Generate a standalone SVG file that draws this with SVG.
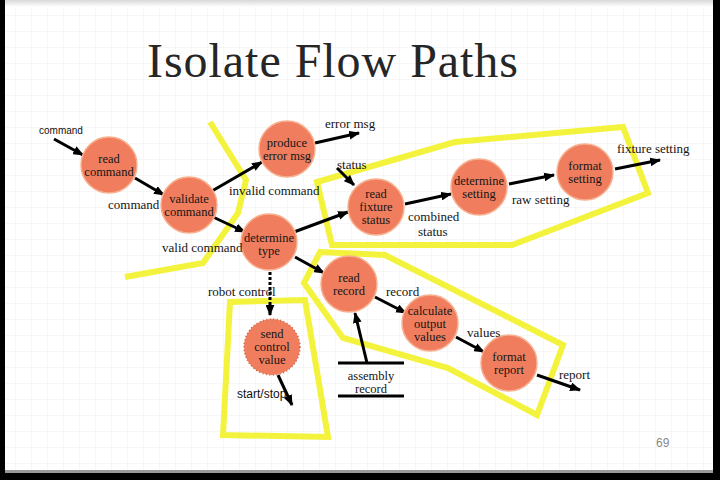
<svg xmlns="http://www.w3.org/2000/svg" width="720" height="480" viewBox="0 0 720 480">
  <defs>
    <pattern id="grid" width="16" height="16" patternUnits="userSpaceOnUse">
      <path d="M16 0 V16 M0 16 H16" fill="none" stroke="#efefef" stroke-width="1"/>
    </pattern>
    <marker id="ah" viewBox="0 0 10 8" refX="9" refY="4" markerWidth="11" markerHeight="9" markerUnits="userSpaceOnUse" orient="auto">
      <path d="M0 0 L10 4 L0 8 Z" fill="#000"/>
    </marker>
    <linearGradient id="topfade" x1="0" y1="0" x2="0" y2="1">
      <stop offset="0" stop-color="#d8d8d8"/>
      <stop offset="1" stop-color="#ffffff"/>
    </linearGradient>
    <style>
      .node circle { fill: #F07E5E; stroke: #F7B08F; stroke-width: 1.5; }
      .node text { text-anchor: middle; }
      .edge { stroke: #000; stroke-width: 3; fill: none; marker-end: url(#ah); }
      .hl { fill: none; stroke: #F3F33E; stroke-width: 6; stroke-linejoin: miter; }
    </style>
  </defs>

  <!-- frame -->
  <rect x="0" y="0" width="720" height="480" fill="#000"/>
  <rect x="5" y="0" width="708" height="473" fill="#9a9a9a"/>
  <rect x="5" y="0" width="708" height="470" fill="#fff"/>
  <rect x="5" y="0" width="708" height="470" fill="url(#grid)"/>
  <rect x="5" y="0" width="708" height="7" fill="url(#topfade)"/>

  <text x="147" y="77" font-family="'Liberation Serif', 'DejaVu Serif', serif" font-size="48" fill="#262626" textLength="371">Isolate Flow Paths</text>

  <!-- highlights -->
  <g id="highlights">
    <polyline class="hl" points="210,122 246,180 238,213 203,263 125,277"/>
    <polygon class="hl" points="317,182 455,142 623,127 648,193 512,245 332,245"/>
    <polygon class="hl" points="320,252 385,255 563,345 537,415 448,368 343,338 304,283"/>
    <polygon class="hl" points="230,302 305,300 328,437 223,435"/>
  </g>

  <!-- connectors -->
  <g id="connectors">
    <line class="edge" x1="54" y1="139" x2="83" y2="155"/>
    <line class="edge" x1="135" y1="178" x2="164" y2="195"/>
    <line class="edge" x1="212" y1="191" x2="262" y2="162"/>
    <line class="edge" x1="213" y1="217" x2="245" y2="232"/>
    <line class="edge" x1="315" y1="143" x2="359" y2="133"/>
    <line class="edge" x1="337" y1="168" x2="354" y2="185"/>
    <line class="edge" x1="294" y1="232" x2="348" y2="212"/>
    <line class="edge" x1="295" y1="257" x2="324" y2="273"/>
    <line class="edge" x1="270" y1="272" x2="270" y2="315" stroke-dasharray="3,2"/>
    <line class="edge" x1="405" y1="204" x2="451" y2="194"/>
    <line class="edge" x1="509" y1="184" x2="554" y2="175"/>
    <line class="edge" x1="615" y1="169" x2="660" y2="160"/>
    <line class="edge" x1="375" y1="297" x2="406" y2="313"/>
    <line class="edge" x1="367" y1="363" x2="355" y2="313"/>
    <line class="edge" x1="278" y1="375" x2="292" y2="405"/>
    <line class="edge" x1="456" y1="337" x2="484" y2="352"/>
    <line class="edge" x1="537" y1="375" x2="580" y2="390"/>
  </g>

  <!-- nodes -->
  <g font-family="'Liberation Serif', 'DejaVu Serif', serif" font-size="12.5" fill="#151515">
    <g id="read-command" class="node">
      <circle cx="109" cy="165" r="28"/>
      <text x="109" y="163">read</text>
      <text x="109" y="176">command</text>
    </g>
    <g id="validate-command" class="node">
      <circle cx="189" cy="205" r="28"/>
      <text x="189" y="203">validate</text>
      <text x="189" y="216">command</text>
    </g>
    <g id="produce-error-msg" class="node">
      <circle cx="287" cy="149" r="28"/>
      <text x="287" y="147">produce</text>
      <text x="287" y="160">error msg</text>
    </g>
    <g id="determine-type" class="node">
      <circle cx="269" cy="242" r="28"/>
      <text x="269" y="242">determine</text>
      <text x="269" y="255">type</text>
    </g>
    <g id="read-fixture-status" class="node">
      <circle cx="376" cy="207" r="28"/>
      <text x="376" y="198">read</text>
      <text x="376" y="211">fixture</text>
      <text x="376" y="224">status</text>
    </g>
    <g id="determine-setting" class="node">
      <circle cx="479" cy="187" r="28"/>
      <text x="479" y="185">determine</text>
      <text x="479" y="198">setting</text>
    </g>
    <g id="format-setting" class="node">
      <circle cx="585" cy="172" r="28"/>
      <text x="585" y="170">format</text>
      <text x="585" y="183">setting</text>
    </g>
    <g id="read-record" class="node">
      <circle cx="349" cy="284" r="28"/>
      <text x="349" y="282">read</text>
      <text x="349" y="295">record</text>
    </g>
    <g id="send-control-value" class="node">
      <circle cx="272" cy="347" r="28" style="stroke:#C8603F;stroke-width:1.5;stroke-dasharray:1,2.5"/>
      <text x="272" y="338">send</text>
      <text x="272" y="351">control</text>
      <text x="272" y="364">value</text>
    </g>
    <g id="calculate-output-values" class="node">
      <circle cx="430" cy="323" r="28"/>
      <text x="430" y="315">calculate</text>
      <text x="430" y="328">output</text>
      <text x="430" y="341">values</text>
    </g>
    <g id="format-report" class="node">
      <circle cx="509" cy="363" r="28"/>
      <text x="509" y="361">format</text>
      <text x="509" y="374">report</text>
    </g>

    <!-- data store -->
    <g id="assembly-record">
      <line x1="338" y1="363" x2="404" y2="363" stroke="#000" stroke-width="3"/>
      <line x1="338" y1="396" x2="404" y2="396" stroke="#000" stroke-width="3"/>
      <text x="371" y="380" text-anchor="middle">assembly</text>
      <text x="371" y="393" text-anchor="middle">record</text>
    </g>

    <!-- flow labels -->
    <g id="labels" font-size="13">
      <text x="108" y="209">command</text>
      <text x="229" y="195">invalid command</text>
      <text x="162" y="252">valid command</text>
      <text x="325" y="128">error msg</text>
      <text x="337" y="169">status</text>
      <text x="408" y="221">combined</text>
      <text x="418" y="236">status</text>
      <text x="512" y="204">raw setting</text>
      <text x="617" y="153">fixture setting</text>
      <text x="208" y="296">robot control</text>
      <text x="386" y="296">record</text>
      <text x="467" y="337">values</text>
      <text x="559" y="379">report</text>
    </g>
  </g>
  <g id="sans-labels" font-family="'Liberation Sans', Arial, sans-serif" fill="#111">
    <text x="39" y="134" font-size="10">command</text>
    <text x="237" y="398" font-size="12">start/stop</text>
    <text x="656" y="447" font-size="12" fill="#888">69</text>
  </g>
</svg>
